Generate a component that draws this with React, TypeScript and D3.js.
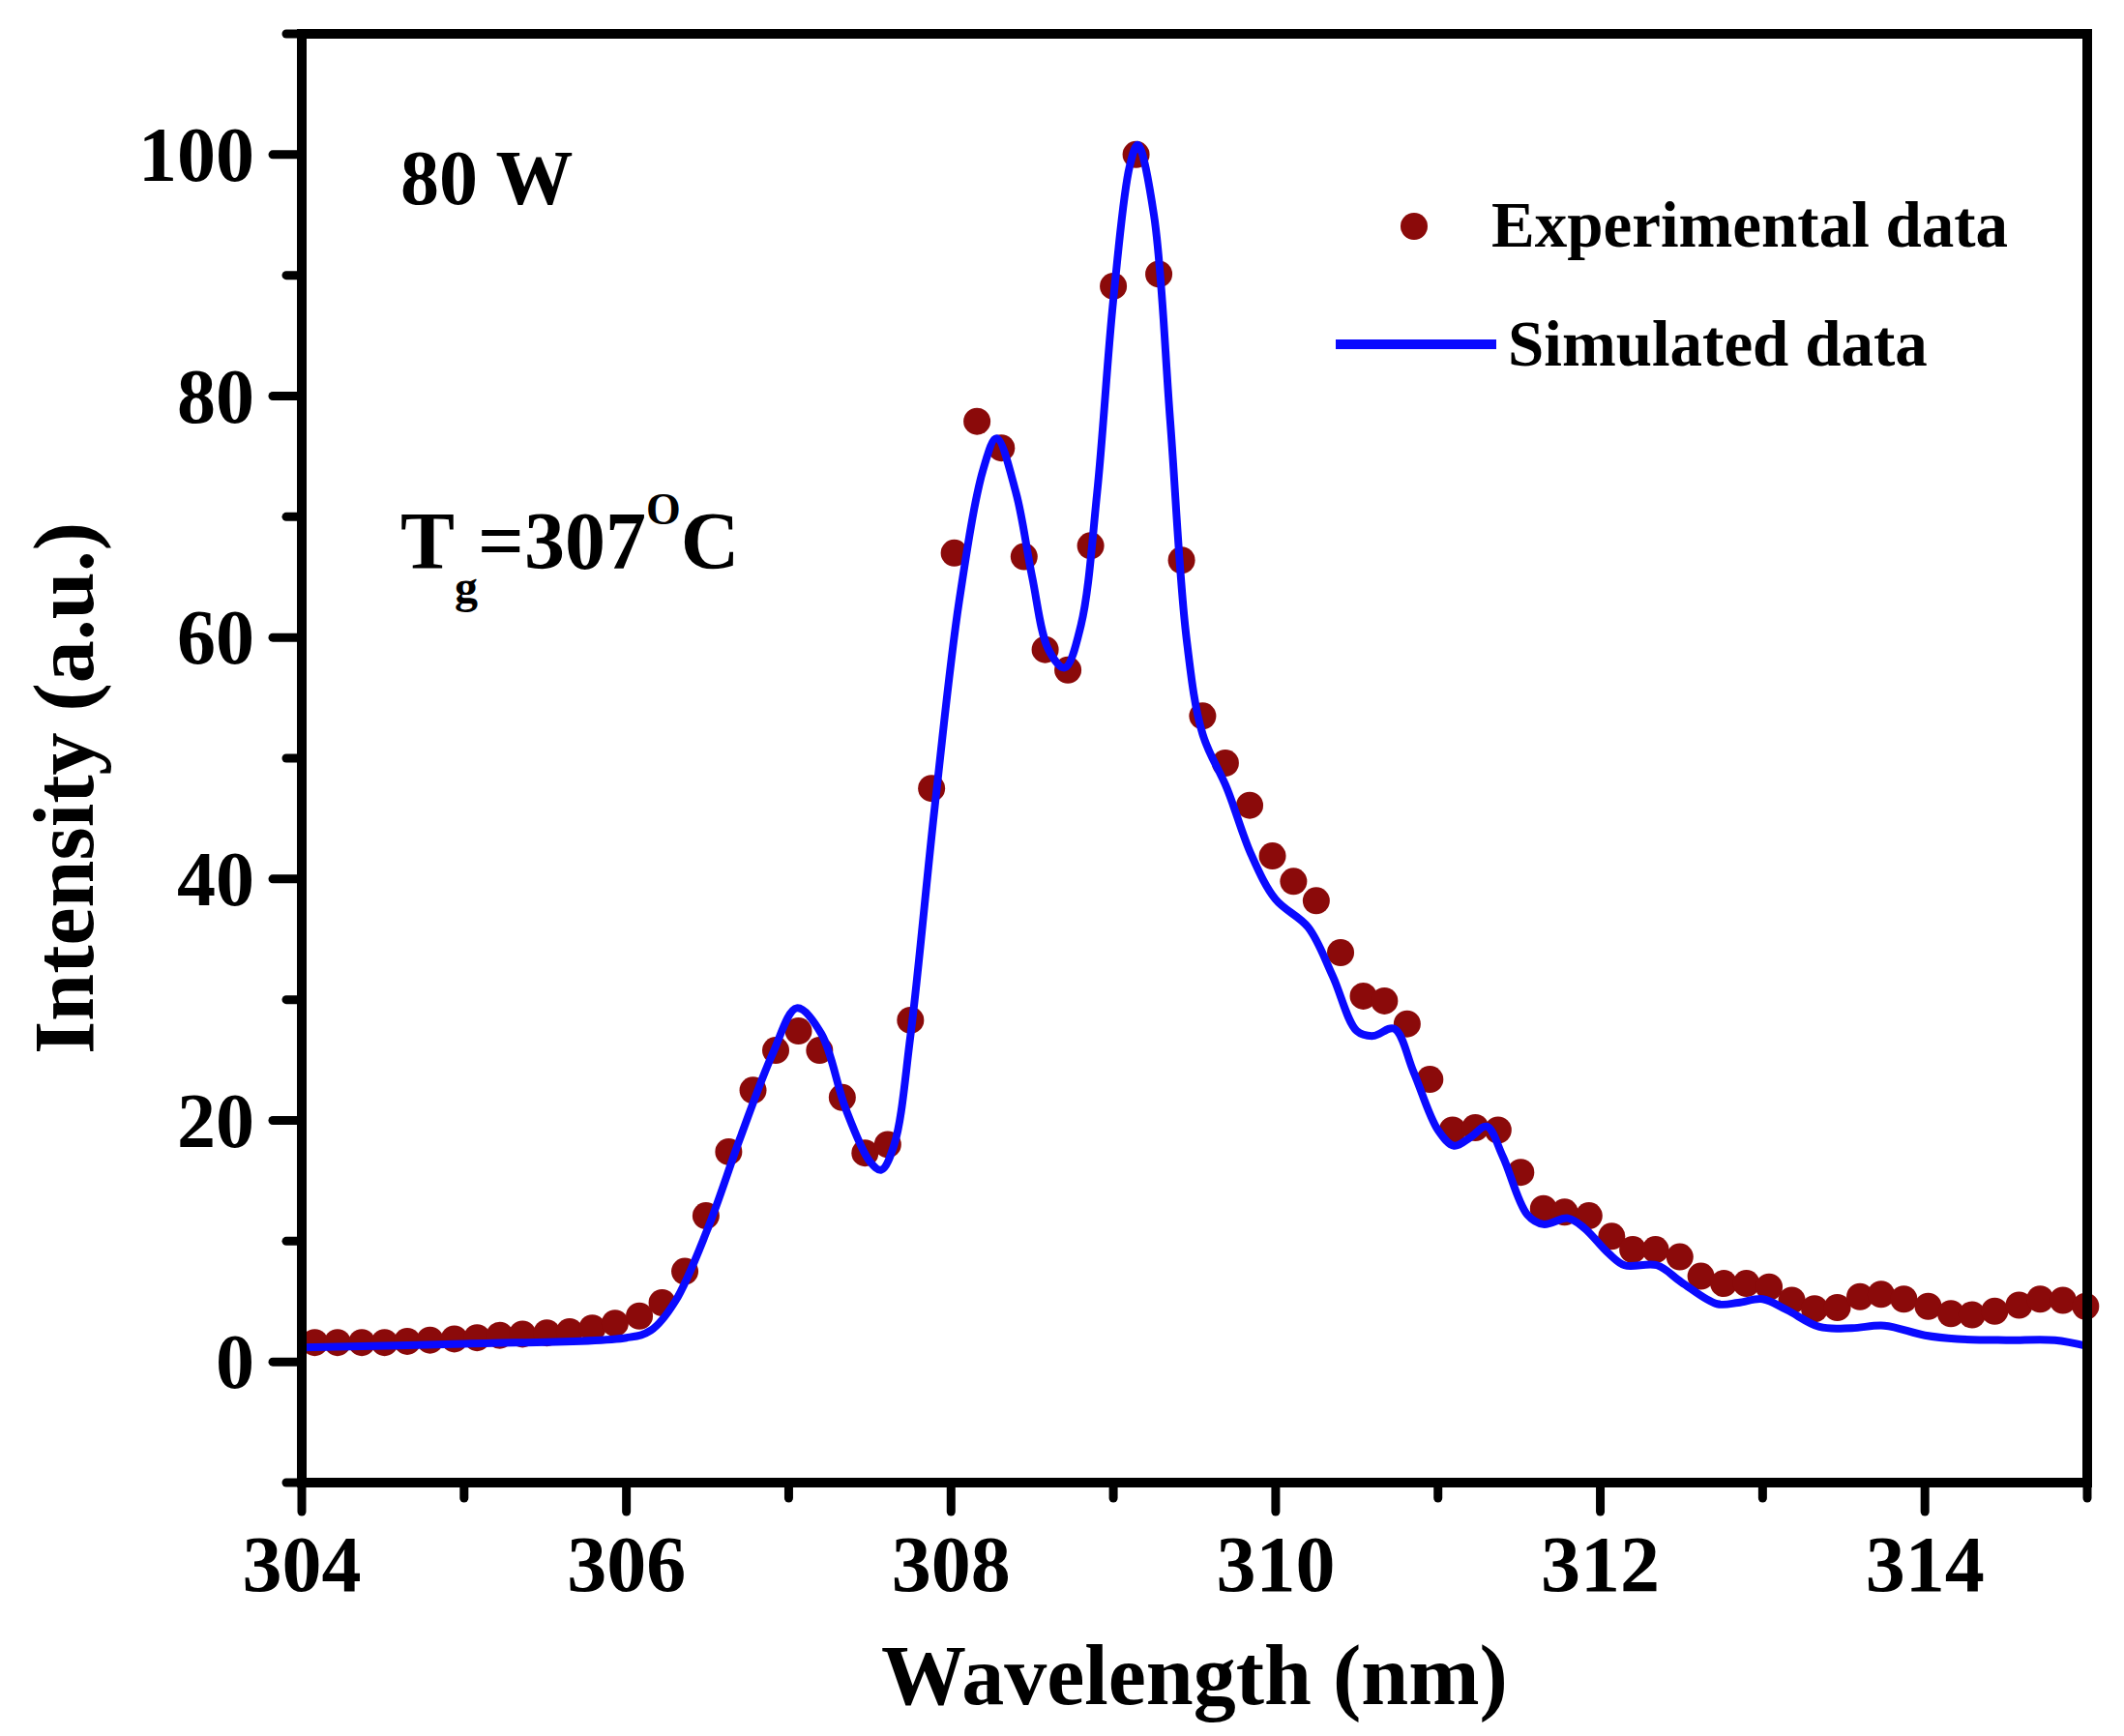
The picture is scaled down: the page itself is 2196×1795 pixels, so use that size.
import * as d3 from 'd3'

// experimental spectrum (dots)
const expWavelength = [
    304.08, 304.22, 304.37, 304.51, 304.65, 304.79, 304.94, 305.08, 305.22, 305.36,
    305.51, 305.65, 305.79, 305.93, 306.08, 306.22, 306.36, 306.49, 306.63, 306.78,
    306.92, 307.06, 307.19, 307.33, 307.47, 307.61, 307.75, 307.88, 308.02, 308.16,
    308.31, 308.45, 308.58, 308.72, 308.86, 309.0, 309.14, 309.28, 309.42, 309.55,
    309.69, 309.84, 309.98, 310.11, 310.25, 310.4, 310.54, 310.67, 310.81, 310.95,
    311.09, 311.23, 311.37, 311.51, 311.65, 311.78, 311.93, 312.07, 312.2, 312.34,
    312.49, 312.62, 312.76, 312.9, 313.04, 313.18, 313.32, 313.46, 313.6, 313.73,
    313.87, 314.02, 314.16, 314.29, 314.43, 314.58, 314.71, 314.85, 314.99,
]
const expIntensity = [
    1.6, 1.6, 1.6, 1.6, 1.7, 1.8, 1.9, 2.0, 2.2, 2.3,
    2.4, 2.5, 2.8, 3.2, 3.8, 4.9, 7.5, 12.1, 17.4, 22.5,
    25.8, 27.4, 25.8, 21.9, 17.3, 18.0, 28.3, 47.5, 67.0, 77.9,
    75.7, 66.7, 59.0, 57.3, 67.6, 89.1, 100, 90.1, 66.4, 53.5,
    49.6, 46.1, 41.9, 39.8, 38.2, 33.9, 30.3, 29.9, 28.0, 23.4,
    19.2, 19.4, 19.2, 15.7, 12.7, 12.4, 12.1, 10.4, 9.3, 9.3,
    8.7, 7.1, 6.5, 6.5, 6.2, 5.1, 4.4, 4.5, 5.4, 5.6,
    5.2, 4.6, 4.0, 3.9, 4.2, 4.7, 5.2, 5.1, 4.6,
]

// simulated spectrum (line)
const simWavelength = [
    304.0, 305.0, 306.0, 306.15, 306.3, 306.5, 306.7, 306.9, 307.05, 307.2,
    307.35, 307.5, 307.57, 307.65, 307.75, 307.9, 308.05, 308.2, 308.28, 308.4,
    308.5, 308.6, 308.7, 308.8, 308.9, 309.0, 309.1, 309.15, 309.25, 309.35,
    309.45, 309.55, 309.7, 309.85, 310.0, 310.2, 310.35, 310.5, 310.6, 310.73,
    310.85, 311.0, 311.1, 311.2, 311.3, 311.4, 311.55, 311.65, 311.8, 311.9,
    312.05, 312.15, 312.35, 312.5, 312.72, 312.85, 313.0, 313.15, 313.35, 313.55,
    313.75, 314.0, 314.2, 314.5, 314.8, 315.0,
]
const simIntensity = [
    1.2, 1.5, 2.0, 2.6, 5.0, 11.0, 18.5, 25.5, 29.3, 27.2,
    21.0, 16.6, 15.9, 18.0, 27.0, 46.0, 63.0, 74.0, 76.5, 72.0,
    65.0, 59.0, 57.5, 61.0, 72.0, 88.0, 99.0, 100.8, 95.0, 78.0,
    60.0, 52.0, 47.5, 42.0, 38.3, 36.0, 32.0, 27.4, 27.0, 27.6,
    24.0, 19.2, 17.9, 18.6, 19.5, 17.0, 12.2, 11.4, 11.9, 11.1,
    9.0, 8.0, 8.0, 6.6, 4.8, 4.9, 5.2, 4.3, 2.9, 2.8,
    3.0, 2.2, 1.9, 1.8, 1.8, 1.3,
]

const xMajorTicks = [304, 306, 308, 310, 312, 314]
const xMinorTicks = [305, 307, 309, 311, 313, 315]
const yMajorTicks = [0, 20, 40, 60, 80, 100]
const yMinorTicks = [-10, 10, 30, 50, 70, 90, 110]

const W = 2196
const H = 1795
const font = '"Liberation Serif", "Times New Roman", serif'

export default function App() {
    const x = d3.scaleLinear().domain([304, 315]).range([312, 2158])
    const y = d3.scaleLinear().domain([-10, 110]).range([1533, 35])

    const simLine = d3
        .line<number>()
        .x((d) => x(d))
        .y((_, i) => y(simIntensity[i]))
        .curve(d3.curveCatmullRom.alpha(0.5))

    const axisStroke = 10
    const [x0, x1] = x.range()
    const [yb, yt] = y.range()

    return (
        <div style={{ position: 'absolute', left: 0, top: 0 }}>
            <svg width={W} height={H} style={{ display: 'block', background: 'white' }}>
                {/* experimental dots */}
                {expWavelength.map((w, i) => (
                    <circle key={i} cx={x(w)} cy={y(expIntensity[i])} r={14} fill="#8b0a0a" />
                ))}
                {/* simulated curve on top of the dots */}
                <path
                    d={simLine(simWavelength) ?? ''}
                    fill="none"
                    stroke="#0a0aff"
                    strokeWidth={8}
                    strokeLinejoin="round"
                />

                {/* frame */}
                <rect
                    x={x0}
                    y={yt}
                    width={x1 - x0}
                    height={yb - yt}
                    fill="none"
                    stroke="black"
                    strokeWidth={axisStroke}
                />

                {/* x ticks */}
                {xMajorTicks.map((t) => (
                    <g key={'xM' + t}>
                        <line x1={x(t)} x2={x(t)} y1={yb} y2={yb + 30} stroke="black" strokeWidth={9} strokeLinecap="round" />
                        <text
                            x={x(t)}
                            y={1645}
                            textAnchor="middle"
                            fontFamily={font}
                            fontWeight="bold"
                            fontSize={82}
                        >
                            {t}
                        </text>
                    </g>
                ))}
                {xMinorTicks.map((t) => (
                    <line key={'xm' + t} x1={x(t)} x2={x(t)} y1={yb} y2={yb + 16} stroke="black" strokeWidth={9} strokeLinecap="round" />
                ))}

                {/* y ticks */}
                {yMajorTicks.map((t) => (
                    <g key={'yM' + t}>
                        <line x1={x0} x2={x0 - 30} y1={y(t)} y2={y(t)} stroke="black" strokeWidth={9} strokeLinecap="round" />
                        <text
                            x={263}
                            y={y(t) + 27}
                            textAnchor="end"
                            fontFamily={font}
                            fontWeight="bold"
                            fontSize={80}
                        >
                            {t}
                        </text>
                    </g>
                ))}
                {yMinorTicks.map((t) => (
                    <line key={'ym' + t} x1={x0} x2={x0 - 16} y1={y(t)} y2={y(t)} stroke="black" strokeWidth={9} strokeLinecap="round" />
                ))}

                {/* axis titles */}
                <text
                    x={(x0 + x1) / 2}
                    y={1762}
                    textAnchor="middle"
                    fontFamily={font}
                    fontWeight="bold"
                    fontSize={88}
                >
                    Wavelength (nm)
                </text>
                <text
                    transform={`translate(96, 815) rotate(-90)`}
                    textAnchor="middle"
                    fontFamily={font}
                    fontWeight="bold"
                    fontSize={88}
                >
                    Intensity (a.u.)
                </text>

                {/* annotations */}
                <text x={414} y={211} fontFamily={font} fontWeight="bold" fontSize={80}>
                    80 W
                </text>
                <text x={414} y={588} fontFamily={font} fontWeight="bold" fontSize={84}>
                    T
                    <tspan fontSize={48} dy={35}>g</tspan>
                    <tspan dy={-35}>=307</tspan>
                    <tspan fontSize={46} dy={-46}>O</tspan>
                    <tspan dy={46}>C</tspan>
                </text>

                {/* legend */}
                <circle cx={1462} cy={234} r={14} fill="#8b0a0a" />
                <text x={1542} y={255} fontFamily={font} fontWeight="bold" fontSize={67}>
                    Experimental data
                </text>
                <line x1={1381} x2={1547} y1={356} y2={356} stroke="#0a0aff" strokeWidth={10} />
                <text x={1559} y={378} fontFamily={font} fontWeight="bold" fontSize={67}>
                    Simulated data
                </text>
            </svg>
        </div>
    )
}
